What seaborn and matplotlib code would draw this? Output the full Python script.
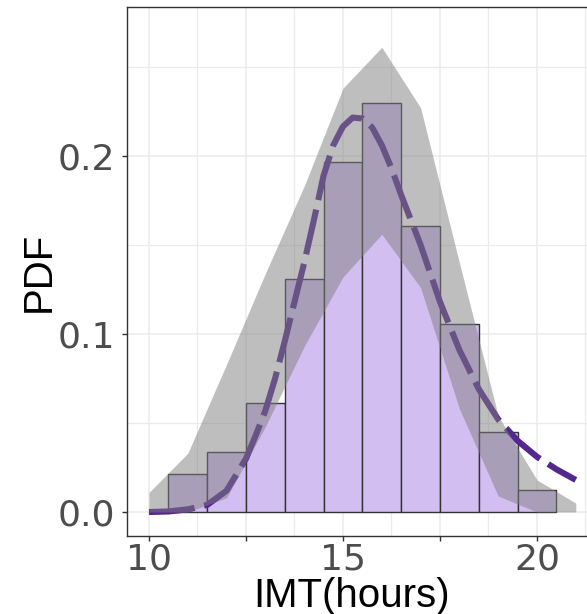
import numpy as np
import pandas as pd
import seaborn as sns
import matplotlib.pyplot as plt
from matplotlib.ticker import FixedLocator

# Histogram of observed inter-event times (density per 1-hour bin)
bin_centers = [11, 12, 13, 14, 15, 16, 17, 18, 19, 20]
bin_density = [0.0213, 0.0339, 0.061, 0.131, 0.1965, 0.2296, 0.1607, 0.1054, 0.0447, 0.0124]

# Uncertainty band of the density
band_x = [10, 11, 12, 13, 14, 15, 16, 17, 18, 19, 20, 21]
band_low = [0.0, 0.0, 0.008, 0.048, 0.093, 0.132, 0.156, 0.126, 0.058, 0.009, 0.0, 0.0]
band_high = [0.011, 0.033, 0.083, 0.134, 0.183, 0.238, 0.261, 0.227, 0.140, 0.054, 0.018, 0.005]

# Fitted PDF
curve_x = [10, 10.5, 11, 11.5, 12, 12.5, 12.75, 13, 13.25, 13.5, 13.75, 14, 14.25,
           14.5, 14.75, 15, 15.25, 15.5, 15.75, 16, 16.25, 16.5, 16.75, 17, 17.5,
           18, 18.5, 19, 19.5, 20, 20.5, 21]
curve_pdf = [0.0, 0.0003, 0.0015, 0.004, 0.012, 0.030, 0.043, 0.057, 0.075, 0.096,
             0.118, 0.140, 0.164, 0.189, 0.206, 0.2165, 0.2215, 0.221, 0.216, 0.206,
             0.193, 0.178, 0.164, 0.150, 0.118, 0.091, 0.069, 0.052, 0.040, 0.031,
             0.024, 0.018]

x_ticks = [10, 12.5, 15, 17.5, 20]
x_tick_labels = ["10", "", "15", "", "20"]
y_ticks = [0.0, 0.1, 0.2]
y_tick_labels = ["0.0", "0.1", "0.2"]

sns.set_theme(style="white")
plt.rcParams["font.family"] = ["Liberation Sans", "DejaVu Sans"]

W, H = 587, 614
fig = plt.figure(figsize=(W / 100, H / 100), dpi=100)
ax = fig.add_axes([127 / W, 1 - 536 / H, 470 / W, 529 / H])

bin_edges = [c - 0.5 for c in bin_centers] + [bin_centers[-1] + 0.5]
hist_df = pd.DataFrame({"x": bin_centers, "w": bin_density})
sns.histplot(data=hist_df, x="x", weights="w", bins=bin_edges,
             stat="count", color="#d2bef1", alpha=1.0, edgecolor="#333333",
             linewidth=1.0, ax=ax, zorder=1)

curve_df = pd.DataFrame({"x": curve_x, "pdf": curve_pdf})
sns.lineplot(data=curve_df, x="x", y="pdf", ax=ax, color="#54278f", linewidth=4.4,
             linestyle=(0, (7.5, 1.6)), dash_capstyle="butt",
             solid_joinstyle="round", dash_joinstyle="round", zorder=2)

ax.fill_between(band_x, band_low, band_high, color="#7f7f7f", alpha=0.5,
                linewidth=0, zorder=3)

ax.set_xlim(9.433, 9.433 + 470 / 38.8)
ax.set_ylim(-0.01347, 0.2836)

ax.xaxis.set_major_locator(FixedLocator(x_ticks))
ax.set_xticklabels(x_tick_labels)
ax.xaxis.set_minor_locator(FixedLocator([11.25, 13.75, 16.25, 18.75, 21.25]))
ax.yaxis.set_major_locator(FixedLocator(y_ticks))
ax.set_yticklabels(y_tick_labels)
ax.yaxis.set_minor_locator(FixedLocator([0.05, 0.15, 0.25]))

ax.set_axisbelow(True)
ax.grid(which="major", color="#ebebeb", linewidth=1.1)
ax.grid(which="minor", color="#ebebeb", linewidth=0.9)

for side in ["left", "bottom", "top"]:
    ax.spines[side].set_visible(True)
    ax.spines[side].set_color("#333333")
    ax.spines[side].set_linewidth(1.0)
ax.spines["right"].set_visible(False)

ax.tick_params(which="major", length=3.6, width=1.0, color="#333333",
               labelcolor="#4d4d4d", labelsize=26, bottom=True, left=True)
ax.tick_params(axis="x", pad=1.0)
ax.tick_params(axis="y", pad=5.0)
ax.tick_params(which="minor", length=0)
for lab in ax.get_xticklabels() + ax.get_yticklabels():
    lab.set_family(["DejaVu Sans"])

ax.set_xlabel("IMT(hours)", fontsize=29, color="black")
ax.set_ylabel("PDF", fontsize=29, color="black")
ax.xaxis.label.set_va("baseline")
ax.xaxis.set_label_coords(352 / W, 1 - 607 / H, transform=fig.transFigure)
ax.yaxis.label.set_va("baseline")
ax.yaxis.set_label_coords(50 / W, 1 - 271.5 / H, transform=fig.transFigure)

fig.savefig("out.png", dpi=100)
